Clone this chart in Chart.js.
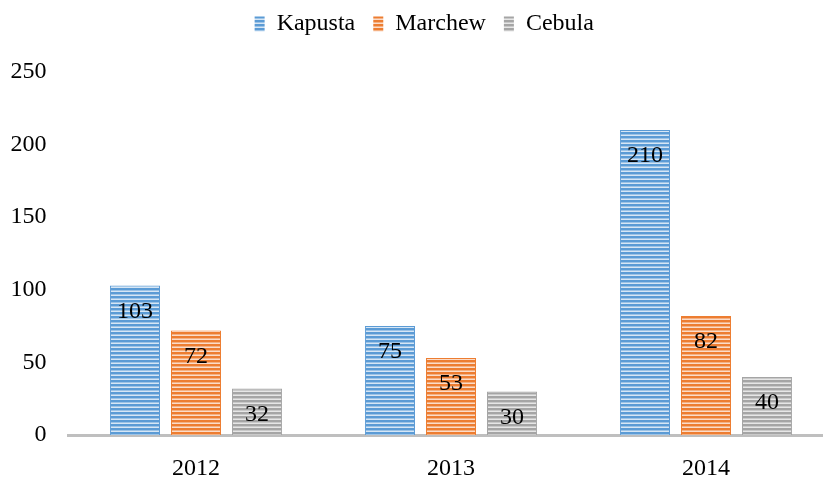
<!DOCTYPE html>
<html>
<head>
<meta charset="utf-8">
<script src="https://cdn.jsdelivr.net/npm/chart.js@4.4.1/dist/chart.umd.min.js"></script>
<style>
  html, body { margin: 0; padding: 0; background: #fff; overflow: hidden; }
  #wrap { position: relative; width: 840px; height: 484px; }
</style>
</head>
<body>
<div id="wrap"><canvas id="c"></canvas></div>
<script>
const categories = ['2012', '2013', '2014'];
const seriesNames = ['Kapusta', 'Marchew', 'Cebula'];
const kapusta = [103, 75, 210];
const marchew = [72, 53, 82];
const cebula = [32, 30, 40];
const yTicks = [0, 50, 100, 150, 200, 250];

const FONT = '"Liberation Serif", "Times New Roman", serif';
const baseColors = ['#5b9bd5', '#ed7d31', '#a5a5a5'];
const lightColors = ['#d6e6f5', '#fbdcc9', '#e6e6e6'];
const midColors = ['#9cc3e6', '#f4b183', '#c9c9c9'];

function makePattern(base, mid, light) {
  const p = document.createElement('canvas');
  p.width = 4; p.height = 4;
  const g = p.getContext('2d');
  g.fillStyle = base; g.fillRect(0, 0, 4, 2);
  g.fillStyle = mid; g.fillRect(0, 2, 4, 1);
  g.fillStyle = light; g.fillRect(0, 3, 4, 1);
  return g.createPattern(p, 'repeat');
}
const patterns = baseColors.map((b, i) => makePattern(b, midColors[i], lightColors[i]));

const values = [kapusta, marchew, cebula];
const datasets = seriesNames.map((name, i) => ({
  label: name,
  data: values[i],
  backgroundColor: patterns[i],
  borderColor: baseColors[i],
  borderWidth: 1,
  borderSkipped: 'bottom',
  categoryPercentage: 0.718,
  barPercentage: 0.82
}));

const labelPlugin = {
  id: 'barLabels',
  afterDatasetsDraw(chart) {
    const ctx = chart.ctx;
    ctx.save();
    ctx.font = '24px ' + FONT;
    ctx.fillStyle = '#000';
    ctx.textAlign = 'center';
    ctx.textBaseline = 'middle';
    chart.data.datasets.forEach((ds, di) => {
      const meta = chart.getDatasetMeta(di);
      meta.data.forEach((bar, j) => {
        ctx.fillText(String(ds.data[j]), bar.x, bar.y + 26);
      });
    });
    ctx.restore();
  }
};

new Chart(document.getElementById('c'), {
  type: 'bar',
  data: { labels: categories, datasets },
  options: {
    responsive: true,
    maintainAspectRatio: false,
    animation: false,
    layout: { padding: { left: 15, right: 6.5, top: -6, bottom: 0 } },
    plugins: {
      tooltip: { enabled: false },
      subtitle: {
        display: true,
        text: ' ',
        weight: 500,
        font: { size: 10, lineHeight: 1 },
        padding: { top: 8, bottom: 8 }
      },
      legend: {
        position: 'top',
        labels: {
          font: { family: FONT, size: 24 },
          color: '#000',
          boxWidth: 10,
          boxHeight: 15,
          padding: 18,
          generateLabels(chart) {
            return chart.data.datasets.map((ds, i) => ({
              text: ds.label,
              fillStyle: patterns[i],
              strokeStyle: baseColors[i],
              lineWidth: 0,
              datasetIndex: i
            }));
          }
        }
      }
    },
    scales: {
      x: {
        afterFit(scale) { scale.height = 49; },
        grid: { display: false, drawTicks: false },
        border: { display: true, color: '#bfbfbf', width: 3 },
        ticks: { font: { family: FONT, size: 24 }, color: '#000', padding: 19 }
      },
      y: {
        min: 0, max: 250,
        afterBuildTicks(scale) { scale.ticks = yTicks.map(v => ({ value: v })); },
        afterFit(scale) {
          scale.width = 53.5;
          scale._computeLabelArea = () => undefined;
        },
        grid: { display: false, drawTicks: false },
        border: { display: false },
        ticks: { font: { family: FONT, size: 24 }, color: '#000', padding: 22 }
      }
    }
  },
  plugins: [labelPlugin]
});
</script>
</body>
</html>
